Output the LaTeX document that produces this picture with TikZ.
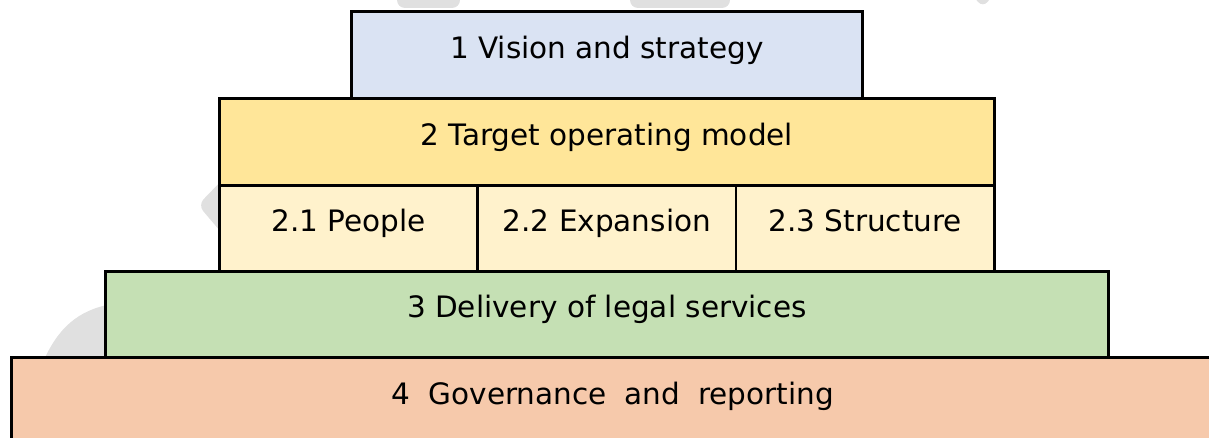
\documentclass[tikz,border=0pt]{standalone}
\usepackage{fontspec}
\setmainfont{DejaVu Sans}
\definecolor{visionblue}{HTML}{DAE3F3}
\definecolor{modelgold}{HTML}{FFE699}
\definecolor{partcream}{HTML}{FFF2CC}
\definecolor{deliverygreen}{HTML}{C5E0B4}
\definecolor{govpeach}{HTML}{F6C9AB}
\definecolor{ghostgray}{HTML}{E0E0E0}
\begin{document}
\begin{tikzpicture}[x=1pt,y=-1pt,
  tier/.style={draw=black, line width=2.8pt, inner sep=0pt, anchor=north west,
    text height=20pt, text depth=13pt, font=\fontsize{29.5}{34}\selectfont},
  ghost/.style={fill=ghostgray, draw=none, rounded corners=8pt}]
\useasboundingbox (0,0) rectangle (1209,438);
\clip (0,0) rectangle (1209,438);

% faint background marks behind the tiers
\fill[ghostgray] (43,362) .. controls (58,328) and (78,310) .. (112,304) -- (112,362) -- cycle;
\fill[ghost] (226,176) -- (198,205) -- (226,238) -- cycle;
\fill[ghost] (397,-20) -- (397,8) -- (460,8) -- (460,-20) -- cycle;
\fill[ghost] (630,-20) -- (630,8) -- (730,8) -- (730,-20) -- cycle;
\fill[ghost] (960,-20) -- (983,8) -- (1004,-20) -- cycle;

% tier 1
\node[tier, fill=visionblue, minimum width=511pt, minimum height=87pt]
  (vision) at (350,10) {1 Vision and strategy};
% tier 2
\node[tier, fill=modelgold, minimum width=775pt, minimum height=87pt]
  (model) at (218,97) {2 Target operating model};
\node[tier, fill=partcream, minimum width=258.33pt, minimum height=86pt]
  (people) at (218,184) {2.1 People};
\node[tier, fill=partcream, minimum width=258.33pt, minimum height=86pt]
  (expansion) at (476.33,184) {2.2 Expansion};
\node[tier, fill=partcream, minimum width=258.33pt, minimum height=86pt]
  (structure) at (734.67,184) {2.3 Structure};
% tier 3
\node[tier, fill=deliverygreen, minimum width=1003pt, minimum height=86pt]
  (delivery) at (104,270) {3 Delivery of legal services};
% tier 4
\node[tier, fill=govpeach, minimum width=1203pt, minimum height=87pt]
  (governance) at (10,356) {\spaceskip=18pt 4 Governance and reporting};
\end{tikzpicture}
\end{document}
